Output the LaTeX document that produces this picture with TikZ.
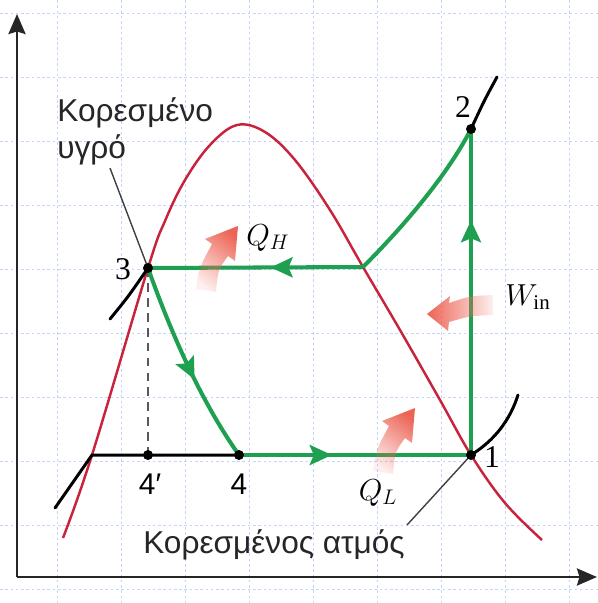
\documentclass[tikz,border=0pt]{standalone}
\usepackage{fontspec}
\setmainfont{Liberation Serif}
\setsansfont{Liberation Sans}
\usepackage{tikz}
\usetikzlibrary{arrows.meta, decorations.markings, fadings}

\definecolor{cyclegreen}{RGB}{30,160,80}
\definecolor{domered}{RGB}{200,35,60}
\definecolor{heatred}{RGB}{236,100,85}
\definecolor{gridblue}{RGB}{195,210,255}

\tikzfading[name=tailfade, top color=transparent!0, bottom color=transparent!90]

\begin{document}
\begin{tikzpicture}[
    x=0.02cm, y=-0.02cm,
    >=Stealth,
    gridline/.style={
        draw=gridblue, line width=0.5pt, dash pattern=on 1.5pt off 1.5pt
    },
    axisline/.style={
        draw=black!85, line width=1.5pt,
        -{Stealth[length=0.4cm, width=0.34cm, inset=0.05cm]}
    },
    domeline/.style={
        draw=domered, line width=1.4pt
    },
    isobar/.style={
        draw=black, line width=1.7pt, line cap=round
    },
    cycleline/.style={
        color=cyclegreen, line width=2.3pt
    },
    midarrow/.style={
        postaction={decorate},
        decoration={markings, mark=at position #1 with
            {\arrow{Stealth[length=0.44cm, width=0.4cm, inset=0.08cm]}}}
    },
    leader/.style={
        draw=black!75, line width=0.8pt
    },
    dropline/.style={
        draw=black!65, line width=1.1pt, dash pattern=on 5pt off 3.5pt
    },
    dot/.style={
        circle, fill, inner sep=0pt, minimum size=0.2cm
    },
    heat/.style={
        fill=heatred, path fading=tailfade
    },
    numlabel/.style={
        font=\fontsize{18}{21}\selectfont
    },
    sanslabel/.style={
        font=\fontsize{17}{20}\selectfont\sffamily
    },
    mathlabel/.style={
        font=\fontsize{17}{20}\selectfont
    },
    textlabel/.style={
        font=\fontsize{18}{21}\selectfont\sffamily, text=black!85, inner sep=0pt
    }
]

\useasboundingbox (0,0) rectangle (598,603);

% background grid
\foreach \gx in {57,121,...,569}
    \draw[gridline] (\gx,0) -- (\gx,603);
\foreach \gy in {13,77,...,589}
    \draw[gridline] (0,\gy) -- (598,\gy);

% state points
\coordinate (o)    at (17,577);
\coordinate (tax)  at (17,14);
\coordinate (sax)  at (597,577);
\coordinate (p1)   at (471,455);
\coordinate (p2)   at (471,129);
\coordinate (p3)   at (148,268);
\coordinate (p4)   at (239,455);
\coordinate (p4p)  at (148,455);
\coordinate (vap)  at (363,267);
\coordinate (knee) at (92,455);

% axes
\draw[axisline] (o) -- (tax);
\draw[axisline] (o) -- (sax);

% saturation dome
\draw[domeline] plot[smooth, tension=0.6] coordinates {
    (63,538) (92,455) (148,268) (165,221) (185,180) (210,145) (237,125)
    (265,132) (295,160) (330,210) (363,267) (400,330) (440,400)
    (471,455) (505,503) (542,540)};

% isobars
\draw[isobar] (55,508) -- (knee) -- (p4);
\draw[isobar] (110,319) .. controls (128,297) .. (p3);
\draw[isobar] (p2) .. controls (484,101) .. (497,77);
\draw[isobar] (p1) .. controls (495,440) and (510,420) .. (518,395);

% leaders
\draw[leader] (110,168) -- (p3);
\draw[leader] (407,525) -- (p1);

\draw[dropline] (p3) -- (p4p);

% cycle
\draw[cycleline, midarrow=0.58] (p3) .. controls (170,330) and (200,400) .. (p4);
\draw[cycleline, midarrow=0.40] (p4) -- (p1);
\draw[cycleline, midarrow=0.72] (p1) -- (p2);
\draw[cycleline] (p2) .. controls (445,180) and (395,235) .. (vap);
\draw[cycleline, midarrow=0.43] (vap) -- (p3);

\node[dot] (d1)  at (p1)  {};
\node[dot] (d2)  at (p2)  {};
\node[dot] (d3)  at (p3)  {};
\node[dot] (d4)  at (p4)  {};
\node[dot] (d4p) at (p4p) {};

% heat and work arrows
\fill[heat, fading angle=-26] (196,289) .. controls (199,268) .. (212,244)
    -- (205,239) -- (238,226) -- (235,261) -- (228,256)
    .. controls (218,270) .. (216,292) -- cycle;
\begin{scope}[shift={(177,182)}]
\fill[heat, fading angle=-26] (196,289) .. controls (199,268) .. (212,244)
    -- (205,239) -- (238,226) -- (235,261) -- (228,256)
    .. controls (218,270) .. (216,292) -- cycle;
\end{scope}
\fill[heat, fading angle=90] (493,295) .. controls (470,296) .. (449,303)
    -- (450,296) -- (427,314) -- (448,331) -- (449,322)
    .. controls (470,316) .. (493,315) -- cycle;

% labels
\node[numlabel]  (l1)  at (492,457) {1};
\node[numlabel]  (l2)  at (463,107) {2};
\node[numlabel]  (l3)  at (123,269) {3};
\node[sanslabel] (l4p) at (150,484) {4′};
\node[sanslabel] (l4)  at (239,484) {4};
\node[mathlabel] (qh)  at (268,238) {$Q_H$};
\node[mathlabel] (ql)  at (378,493) {$Q_L$};
\node[mathlabel] (win) at (528,297) {$W_{\mathrm{in}}$};

\node[textlabel, anchor=north west, align=left] (liq) at (57,97) {Κορεσμένο\\υγρό};
\node[textlabel] (vapl) at (274,545) {Κορεσμένος ατμός};

\end{tikzpicture}
\end{document}
